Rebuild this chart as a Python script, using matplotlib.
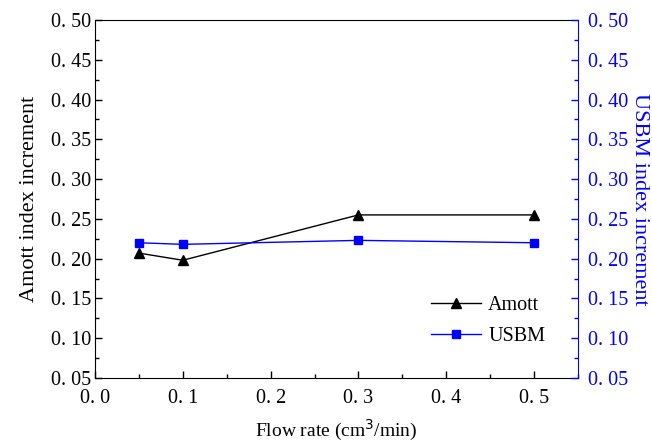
import matplotlib.pyplot as plt
from matplotlib.ticker import MultipleLocator, FuncFormatter

plt.rcParams['font.family'] = ['Liberation Serif', 'DejaVu Serif']

flow = [0.05, 0.1, 0.3, 0.5]
amott = [0.207, 0.198, 0.255, 0.255]
usbm = [0.220, 0.218, 0.223, 0.220]

xticks = [0.0, 0.1, 0.2, 0.3, 0.4, 0.5]
yticks = [0.05, 0.10, 0.15, 0.20, 0.25, 0.30, 0.35, 0.40, 0.45, 0.50]


def fmt2(v, pos):
    return "{:.2f}".format(v).replace(".", ". ")


def fmt1(v, pos):
    return "{:.1f}".format(v).replace(".", ". ")


fig = plt.figure(figsize=(6.52, 4.45), dpi=100)
ax = fig.add_axes([0.1457, 0.1506, 0.7408, 0.8044])
ax2 = ax.twinx()

l1, = ax.plot(flow, amott, color="black", marker="^", markersize=7, lw=1, label="Amott")
l2, = ax2.plot(flow, usbm, color="#0000ff", marker="s", markersize=6, lw=1, label="USBM")

ax.set_xlim(0, 0.55)
ax.set_ylim(0.05, 0.50)
ax2.set_ylim(0.05, 0.50)
ax.set_xticks(xticks)
ax.set_yticks(yticks)
ax2.set_yticks(yticks)
ax.xaxis.set_minor_locator(MultipleLocator(0.05))
ax.yaxis.set_minor_locator(MultipleLocator(0.025))
ax2.yaxis.set_minor_locator(MultipleLocator(0.025))
ax.xaxis.set_major_formatter(FuncFormatter(fmt1))
ax.yaxis.set_major_formatter(FuncFormatter(fmt2))
ax2.yaxis.set_major_formatter(FuncFormatter(fmt2))

ax.tick_params(which="both", direction="in", labelsize=14.5, width=1)
ax.tick_params(which="major", length=5)
ax.tick_params(which="minor", length=3)
ax2.tick_params(which="both", direction="in", labelsize=14.5, width=1,
                colors="#0000ff")
ax2.tick_params(which="major", length=5)
ax2.tick_params(which="minor", length=3)
ax.tick_params(axis="x", pad=8)
ax.tick_params(axis="y", pad=3)
ax2.tick_params(axis="y", pad=7)

ax2.spines["right"].set_color("#0000ff")
ax.spines["right"].set_visible(False)
for s in ["left", "bottom", "top"]:
    ax2.spines[s].set_visible(False)

ax.set_xlabel("Flow rate (cm$^3$/min)", fontsize=14, labelpad=7)
ax.set_ylabel("Amott index increment", fontsize=16, labelpad=8)
ax2.set_ylabel("USBM index increment", fontsize=16, color="#0000ff",
               rotation=270, labelpad=15)

ax.legend([l1, l2], ["Amott", "USBM"], loc="lower right", frameon=False,
          fontsize=14.5, handlelength=2.5, handletextpad=0.35,
          labelspacing=0.6, borderpad=0, borderaxespad=0,
          bbox_to_anchor=(0.932, 0.09))

fig.savefig("out.png", dpi=100)
